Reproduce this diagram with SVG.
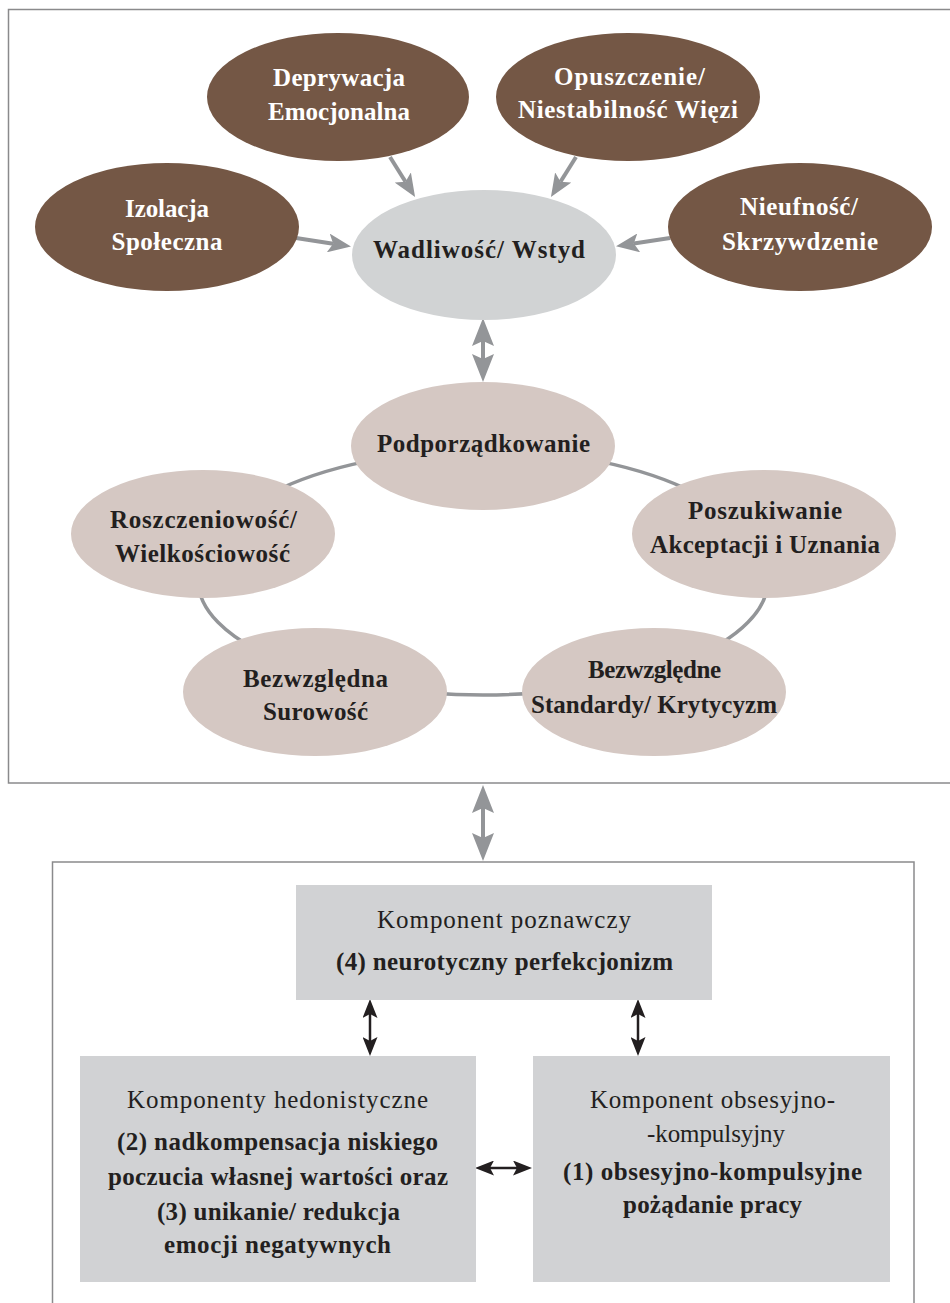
<svg xmlns="http://www.w3.org/2000/svg" width="950" height="1303" viewBox="0 0 950 1303">
  <style>
    .frame { fill: none; stroke: #8a8a8c; stroke-width: 1.5; }
    .brown { fill: #745745; }
    .core { fill: #d1d3d4; }
    .beige { fill: #d5c8c3; }
    .box { fill: #d1d2d4; }
    text { font-family: "Liberation Serif", "Times New Roman", serif; font-size: 25px; text-anchor: middle; }
    .b { font-weight: bold; }
    .w { fill: #ffffff; }
    .d { fill: #231f20; }
    .g { stroke: #939598; stroke-width: 4; fill: none; }
    .k { stroke: #231f20; stroke-width: 2.5; fill: none; }
    .ring { stroke: #939598; stroke-width: 3.5; fill: none; }
  </style>
  <defs>
    <marker id="gl" viewBox="-28 -11 28 22" refX="-23" refY="0" markerWidth="28" markerHeight="22" markerUnits="userSpaceOnUse" orient="auto-start-reverse">
      <path d="M0,0 L-28,-11 L-23,0 L-28,11 Z" fill="#939598"/>
    </marker>
    <marker id="gs" viewBox="-23 -9.5 23 19" refX="-18" refY="0" markerWidth="23" markerHeight="19" markerUnits="userSpaceOnUse" orient="auto-start-reverse">
      <path d="M0,0 L-23,-9.5 L-18,0 L-23,9.5 Z" fill="#939598"/>
    </marker>
    <marker id="kb" viewBox="-19 -7.5 19 15" refX="-15" refY="0" markerWidth="19" markerHeight="15" markerUnits="userSpaceOnUse" orient="auto-start-reverse">
      <path d="M0,0 L-19,-7.5 L-15,0 L-19,7.5 Z" fill="#231f20"/>
    </marker>
  </defs>

  <!-- frames -->
  <rect class="frame" x="8.5" y="9.5" width="945" height="773.5"/>
  <rect class="frame" x="52.5" y="862" width="861.5" height="460"/>

  <!-- connectors -->
  <g id="connectors">
    <path class="ring" d="M198,580 A285,130 0 0 1 768,580 A285,115 0 0 1 198,580 Z"/>
    <line class="g" x1="390" y1="157" x2="405.5" y2="181.7" marker-end="url(#gs)"/>
    <line class="g" x1="576" y1="157" x2="560.5" y2="181.7" marker-end="url(#gs)"/>
    <line class="g" x1="296" y1="238" x2="333.2" y2="243.7" marker-end="url(#gs)"/>
    <line class="g" x1="670" y1="238" x2="633.8" y2="243.6" marker-end="url(#gs)"/>
    <line class="g" x1="483" y1="341" x2="483" y2="359" marker-start="url(#gl)" marker-end="url(#gl)"/>
    <line class="g" x1="483" y1="808" x2="483" y2="838" marker-start="url(#gl)" marker-end="url(#gl)"/>
    <line class="k" x1="370" y1="1014" x2="370" y2="1041" marker-start="url(#kb)" marker-end="url(#kb)"/>
    <line class="k" x1="638" y1="1014" x2="638" y2="1041" marker-start="url(#kb)" marker-end="url(#kb)"/>
    <line class="k" x1="490" y1="1168" x2="517" y2="1168" marker-start="url(#kb)" marker-end="url(#kb)"/>
  </g>

  <!-- early maladaptive schemas -->
  <g id="deprywacja">
    <ellipse class="brown" cx="338" cy="97" rx="131" ry="64"/>
    <text class="b w" x="339" y="86" textLength="132">Deprywacja</text>
    <text class="b w" x="339" y="120" textLength="142">Emocjonalna</text>
  </g>
  <g id="opuszczenie">
    <ellipse class="brown" cx="628" cy="97" rx="132" ry="64"/>
    <text class="b w" x="629.5" y="85" textLength="151">Opuszczenie/</text>
    <text class="b w" x="628" y="118" textLength="220">Niestabilność Więzi</text>
  </g>
  <g id="izolacja">
    <ellipse class="brown" cx="167" cy="227" rx="132" ry="64"/>
    <text class="b w" x="167" y="217" textLength="84">Izolacja</text>
    <text class="b w" x="167" y="250" textLength="111">Społeczna</text>
  </g>
  <g id="nieufnosc">
    <ellipse class="brown" cx="800" cy="227" rx="132" ry="64"/>
    <text class="b w" x="799" y="215" textLength="118">Nieufność/</text>
    <text class="b w" x="800" y="250" textLength="156">Skrzywdzenie</text>
  </g>
  <g id="wadliwosc">
    <ellipse class="core" cx="484" cy="255" rx="132" ry="65"/>
    <text class="b d" x="479" y="258" textLength="212">Wadliwość/ Wstyd</text>
  </g>

  <!-- ring of schemas -->
  <g id="podporzadkowanie">
    <ellipse class="beige" cx="483" cy="446" rx="132" ry="64"/>
    <text class="b d" x="483.5" y="452" textLength="213">Podporządkowanie</text>
  </g>
  <g id="roszczeniowosc">
    <ellipse class="beige" cx="203" cy="534" rx="132" ry="64"/>
    <text class="b d" x="203.5" y="528" textLength="187">Roszczeniowość/</text>
    <text class="b d" x="202.5" y="562" textLength="175">Wielkościowość</text>
  </g>
  <g id="poszukiwanie">
    <ellipse class="beige" cx="764" cy="534" rx="132" ry="64"/>
    <text class="b d" x="765" y="519" textLength="154">Poszukiwanie</text>
    <text class="b d" x="765" y="553" textLength="230">Akceptacji i Uznania</text>
  </g>
  <g id="surowosc">
    <ellipse class="beige" cx="315" cy="692" rx="132" ry="64"/>
    <text class="b d" x="315.5" y="687" textLength="145">Bezwzględna</text>
    <text class="b d" x="315.5" y="720" textLength="105">Surowość</text>
  </g>
  <g id="standardy">
    <ellipse class="beige" cx="654" cy="692" rx="132" ry="64"/>
    <text class="b d" x="654.5" y="678" textLength="133">Bezwzględne</text>
    <text class="b d" x="654" y="713" textLength="246">Standardy/ Krytycyzm</text>
  </g>

  <!-- workaholism components -->
  <g id="poznawczy">
    <rect class="box" x="296" y="885" width="416" height="115"/>
    <text class="d" x="504" y="928" textLength="254">Komponent poznawczy</text>
    <text class="b d" x="504.5" y="970" textLength="337">(4) neurotyczny perfekcjonizm</text>
  </g>
  <g id="hedonistyczne">
    <rect class="box" x="80" y="1056" width="396" height="226"/>
    <text class="d" x="277.5" y="1108" textLength="301">Komponenty hedonistyczne</text>
    <text class="b d" x="277.5" y="1150" textLength="321">(2) nadkompensacja niskiego</text>
    <text class="b d" x="278" y="1185" textLength="340">poczucia własnej wartości oraz</text>
    <text class="b d" x="278.5" y="1220" textLength="243">(3) unikanie/ redukcja</text>
    <text class="b d" x="277.5" y="1253" textLength="227">emocji negatywnych</text>
  </g>
  <g id="obsesyjno">
    <rect class="box" x="533" y="1056" width="357" height="226"/>
    <text class="d" x="712.5" y="1108" textLength="245">Komponent obsesyjno-</text>
    <text class="d" x="716" y="1142" textLength="138">-kompulsyjny</text>
    <text class="b d" x="712.5" y="1180" textLength="299">(1) obsesyjno-kompulsyjne</text>
    <text class="b d" x="712.5" y="1213" textLength="179">pożądanie pracy</text>
  </g>
</svg>
